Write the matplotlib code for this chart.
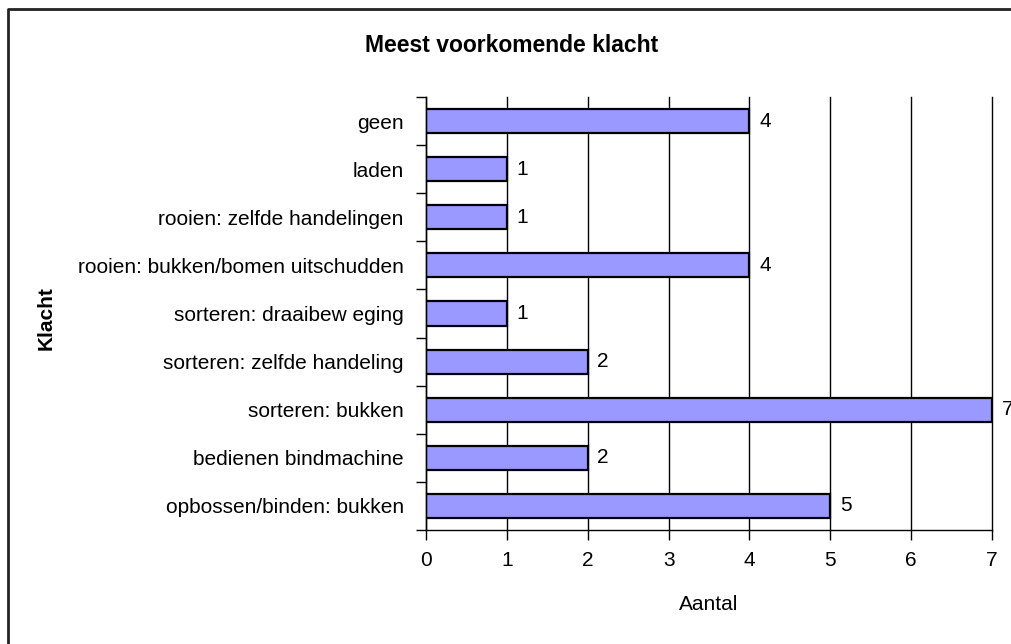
import matplotlib
matplotlib.use("Agg")
import matplotlib.pyplot as plt
from matplotlib.lines import Line2D
import numpy as np

categories = ["geen", "laden", "rooien: zelfde handelingen",
              "rooien: bukken/bomen uitschudden", "sorteren: draaibew eging",
              "sorteren: zelfde handeling", "sorteren: bukken",
              "bedienen bindmachine", "opbossen/binden: bukken"]
values = [4, 1, 1, 4, 1, 2, 7, 2, 5]
xticks = [0, 1, 2, 3, 4, 5, 6, 7]

plt.rcParams['font.family'] = ['Liberation Sans', 'DejaVu Sans']

W, H = 1011, 644
fig = plt.figure(figsize=(W / 100, H / 100), dpi=100)
ax = fig.add_axes([426 / W, 1 - 530 / H, 566 / W, 433 / H])

pos = np.arange(len(categories))
ax.barh(pos, values, height=0.5, color="#9999FF", edgecolor="black",
        linewidth=1.6, zorder=3)
ax.set_ylim(len(categories) - 0.5, -0.5)
ax.set_xlim(0, 7)

for p, v in zip(pos, values):
    ax.text(v + 0.12, p, str(v), va="center", ha="left", fontsize=15, zorder=4)

ax.set_xticks(xticks)
ax.set_xticklabels([str(t) for t in xticks], fontsize=15)
ax.set_yticks(pos)
ax.set_yticklabels(categories, fontsize=15)
ax.set_yticks(np.arange(-0.5, len(categories), 1.0), minor=True)
ax.tick_params(axis="y", which="major", length=0, pad=16)
ax.tick_params(axis="y", which="minor", length=7, width=1, direction="out")
ax.tick_params(axis="x", which="major", length=7, width=1, direction="out", pad=8)

ax.xaxis.grid(True, color="black", linewidth=1)
for gl in ax.get_xgridlines():
    gl.set_clip_on(False)
ax.set_axisbelow(True)
for s in ["top", "right"]:
    ax.spines[s].set_visible(False)
for s in ["left", "bottom"]:
    ax.spines[s].set_linewidth(1)
    ax.spines[s].set_zorder(5)

fig.text(512 / W, 1 - 46 / H, "Meest voorkomende klacht", ha="center",
         va="center", fontsize=16.5, fontweight="bold")
fig.text(46 / W, 1 - 318 / H, "Klacht", ha="center", va="center",
         fontsize=15, fontweight="bold", rotation=90)
fig.text(709 / W, 1 - 605 / H, "Aantal", ha="center", va="center", fontsize=15)

fig.add_artist(Line2D([7.5 / W, 7.5 / W, 1], [0, 1 - 8.5 / H, 1 - 8.5 / H],
                      transform=fig.transFigure, color="#222222", linewidth=2))

fig.savefig("out.png", dpi=100)
